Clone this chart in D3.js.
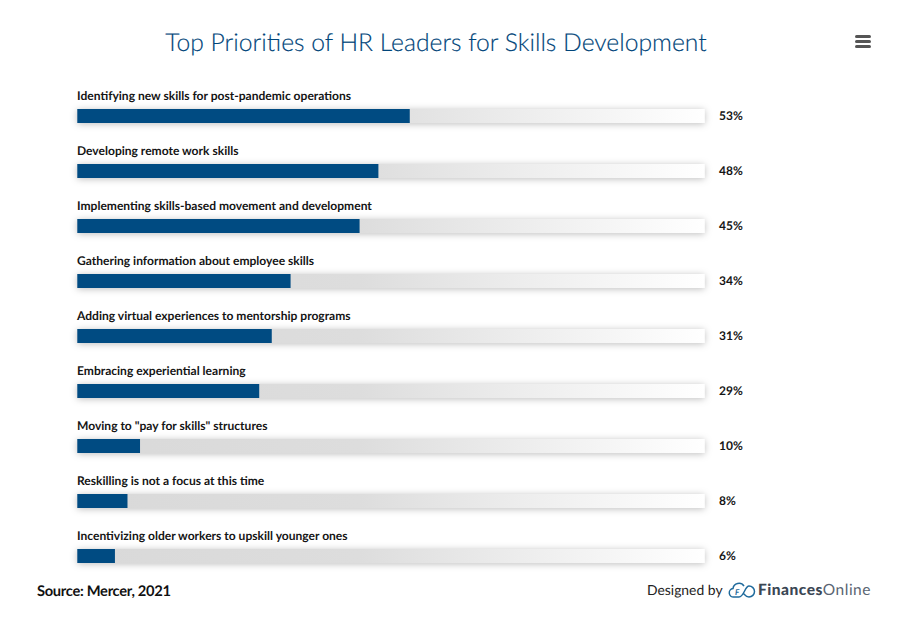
<!DOCTYPE html>
<html><head><meta charset="utf-8">
<script src="https://cdnjs.cloudflare.com/ajax/libs/d3/7.8.5/d3.min.js"></script>
<style>html,body{margin:0;padding:0;background:#fff}svg{display:block;font-family:Lato,sans-serif;text-rendering:geometricPrecision}</style>
</head><body><svg id="c" width="900" height="622"></svg>
<script>
const categories=["Identifying new skills for post-pandemic operations","Developing remote work skills","Implementing skills-based movement and development","Gathering information about employee skills","Adding virtual experiences to mentorship programs","Embracing experiential learning","Moving to \"pay for skills\" structures","Reskilling is not a focus at this time","Incentivizing older workers to upskill younger ones"];
const values=[53,48,45,34,31,29,10,8,6];
const trackMax=100;
const svg=d3.select("#c");
const defs=svg.append("defs");
const g=defs.append("linearGradient").attr("id","track");
g.append("stop").attr("offset","0").attr("stop-color","#d9d9d9");
g.append("stop").attr("offset","0.45").attr("stop-color","#dddddd");
g.append("stop").attr("offset","1").attr("stop-color","#ffffff");
const f=defs.append("filter").attr("id","sh").attr("x","-5%").attr("y","-100%").attr("width","110%").attr("height","300%");
f.append("feDropShadow").attr("dx",0).attr("dy",1).attr("stdDeviation",3.5).attr("flood-color","#000").attr("flood-opacity",0.26);
const x=d3.scaleLinear().domain([0,trackMax]).range([77.3,704.6]);
const y=d3.scaleBand().domain(categories).range([88,583]).paddingInner(0).paddingOuter(0);
svg.append("text").attr("x",436).attr("y",51).attr("text-anchor","middle").attr("font-size",24.7).attr("fill","#00457a").attr("font-weight",300).attr("stroke","#00457a").attr("stroke-width",0.15).text("Top Priorities of HR Leaders for Skills Development");
const row=svg.selectAll("g.row").data(categories).join("g").attr("class","row").attr("transform",d=>`translate(0,${y(d)})`);
row.append("text").attr("x",77).attr("y",12).attr("font-size",12.05).attr("font-weight",700).attr("fill","#151515").text(d=>d);
row.append("rect").attr("x",x(0)).attr("y",21).attr("width",x(trackMax)-x(0)).attr("height",14).attr("fill","url(#track)").attr("filter","url(#sh)");
row.append("rect").attr("x",x(0)).attr("y",21).attr("width",(d,i)=>x(values[i])-x(0)).attr("height",14).attr("fill","#004b82");
row.append("text").attr("x",719).attr("y",32).attr("font-size",12).attr("font-weight",700).attr("fill","#151515").text((d,i)=>values[i]+"%");
svg.append("text").attr("x",37).attr("y",596).attr("font-size",14.7).attr("font-weight",700).attr("fill","#111").attr("letter-spacing",-0.3).text("Source: Mercer, 2021");
svg.append("text").attr("x",647).attr("y",595).attr("font-size",13.9).attr("fill","#222").text("Designed by");
// logo
const lg=svg.append("g").attr("fill","none").attr("stroke","#1f6a9c").attr("stroke-width",1.5);
lg.append("path").attr("d","M737 597 h-3 a4.2 4.2 0 0 1 -1 -8.4 a6 6 0 0 1 11 -2.5 M737 597 h2 c5 0 6 -11 10 -11 a4 4 0 0 1 -0 11 c-3 0 -4 -2 -6 -4");
svg.append("text").attr("x",737).attr("y",595).attr("font-size",8).attr("font-weight",700).attr("font-style","italic").attr("fill","#1f6a9c").attr("text-anchor","middle").text("F");
const brand=svg.append("text").attr("x",758).attr("y",595).attr("font-size",15.5).attr("fill","#3a4654").attr("letter-spacing",0.5);
brand.append("tspan").attr("font-weight",900).text("Finances");
brand.append("tspan").attr("font-weight",400).attr("fill","#5a6572").text("Online");
// menu icon
svg.selectAll("rect.m").data(["m1","m2","m3"]).join("rect").attr("class","m").attr("x",855).attr("y",(d,i)=>35+i*5).attr("width",16).attr("height",3).attr("rx",1.5).attr("fill","#555");
</script></body></html>
